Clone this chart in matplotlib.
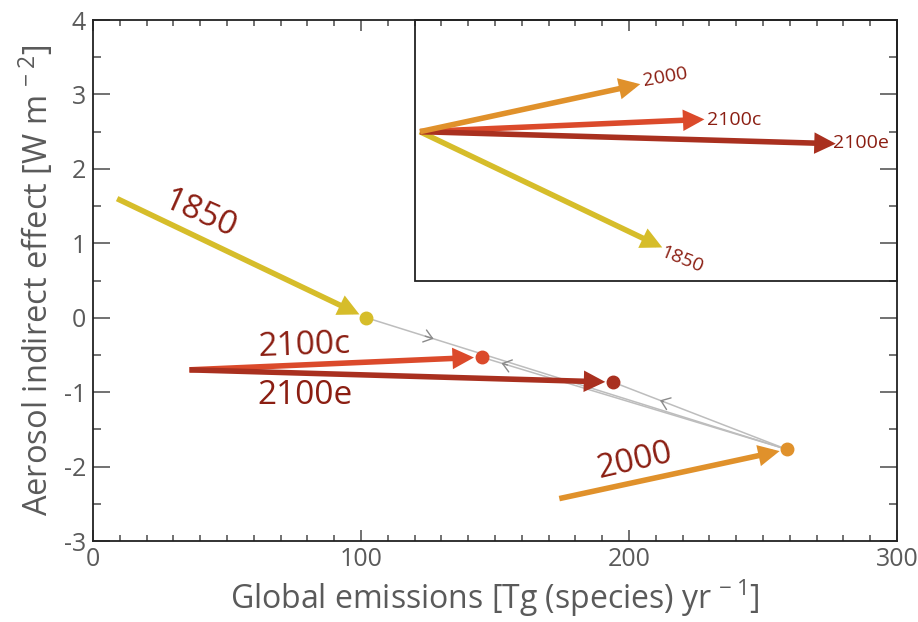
import numpy as np
import matplotlib
matplotlib.use("Agg")
import matplotlib.pyplot as plt
from matplotlib.patches import Rectangle

plt.rcParams['font.family'] = ['Open Sans', 'DejaVu Sans']
plt.rcParams['mathtext.fontset'] = 'custom'
plt.rcParams['mathtext.rm'] = 'Open Sans'
plt.rcParams['mathtext.default'] = 'regular'
plt.rcParams['axes.unicode_minus'] = False

# scenarios: arrow tail and end-point (emissions, forcing)
scenarios = ['1850', '2100c', '2100e', '2000']
start_x = [9, 36, 36, 174]
start_y = [1.60, -0.70, -0.70, -2.43]
end_x = [102, 145, 194, 259]
end_y = [0.0, -0.53, -0.865, -1.77]
colors = ['#d6bd2a', '#db4a2b', '#a9301f', '#e0912b']

# grey trajectory between the end points
path_from = ['1850', '2000', '2000']
path_to = ['2000', '2100c', '2100e']
chevron_at = [0.14, 0.915, 0.71]

# inset: all arrows moved to a common origin
inset_origin = (122, 2.5)
inset_box = (120, 0.5, 300, 4)

label_col = '#8b1e12'
grey = '#5a5a5a'

fig = plt.figure(figsize=(9.18, 6.22), dpi=100)
ax = fig.add_axes([0.1013, 0.1302, 0.8758, 0.8376])

ax.set_xlim(0, 300)
ax.set_ylim(-3, 4)
ax.set_xticks([0, 100, 200, 300])
ax.set_yticks(range(-3, 5))
ax.set_xticks(np.arange(0, 301, 10), minor=True)
ax.set_yticks(np.arange(-3, 4.01, 0.5), minor=True)
ax.tick_params(which='both', direction='in', top=True, right=True,
               colors='#666666', labelcolor=grey, labelsize=18, width=1.3)
ax.tick_params(axis='x', which='major', length=8, pad=4)
ax.tick_params(axis='x', which='minor', length=4)
ax.tick_params(axis='y', which='major', length=12, pad=5)
ax.tick_params(axis='y', which='minor', length=6)
for s in ax.spines.values():
    s.set_color('#222222')
    s.set_linewidth(1.3)

ax.set_xlabel(r'Global emissions [Tg (species) yr$^{\,-1}$]', fontsize=23,
              color=grey, labelpad=4)
ax.set_ylabel(r'Aerosol indirect effect [W m$^{\,-2}$]', fontsize=23.5,
              color=grey, labelpad=6)

pts = {s: (x, y) for s, x, y in zip(scenarios, end_x, end_y)}

# grey connecting lines with small direction chevrons
for a, b, f in zip(path_from, path_to, chevron_at):
    (x0, y0), (x1, y1) = pts[a], pts[b]
    ax.plot([x0, x1], [y0, y1], color='#bdbdbd', lw=1.1, zorder=1)
    px, py = x0 + f * (x1 - x0), y0 + f * (y1 - y0)
    dx, dy = (x1 - x0) * 0.02, (y1 - y0) * 0.02
    ax.annotate('', xy=(px + dx, py + dy), xytext=(px, py),
                arrowprops=dict(arrowstyle='->,head_length=0.6,head_width=0.45',
                                color='#8a8a8a', lw=1.0, mutation_scale=10,
                                shrinkA=0, shrinkB=0), zorder=2)

arrow_style = '-|>,head_length=0.6,head_width=0.3'
arrow_kw = dict(arrowstyle=arrow_style, lw=4, mutation_scale=15,
                shrinkA=0, shrinkB=5.5, joinstyle='miter', capstyle='butt')

for s, x0, y0, x1, y1, c in zip(scenarios, start_x, start_y, end_x, end_y, colors):
    ax.annotate('', xy=(x1, y1), xytext=(x0, y0),
                arrowprops=dict(color=c, **arrow_kw), zorder=3)
    ax.plot(x1, y1, 'o', color=c, markersize=9, zorder=4)

    # same vector drawn from the inset origin
    ox, oy = inset_origin
    ax.annotate('', xy=(ox + x1 - x0, oy + y1 - y0), xytext=(ox, oy),
                arrowprops=dict(color=c, **arrow_kw), zorder=3)

bx0, by0, bx1, by1 = inset_box
ax.add_patch(Rectangle((bx0, by0), bx1 - bx0, by1 - by0, fill=False,
                       edgecolor='#222222', lw=1.3, clip_on=False, zorder=5))

# main labels
ax.text(40, 1.38, '1850', fontsize=24, color=label_col, rotation=-24,
        ha='center', va='center')
ax.text(79, -0.38, '2100c', fontsize=24, color=label_col, rotation=2,
        ha='center', va='center')
ax.text(79, -1.04, '2100e', fontsize=24, color=label_col,
        ha='center', va='center')
ax.text(202, -1.93, '2000', fontsize=24, color=label_col, rotation=13,
        ha='center', va='center')

# inset labels
ax.text(213.4, 3.23, '2000', fontsize=14, color=label_col, rotation=10,
        ha='center', va='center')
ax.text(239.2, 2.66, '2100c', fontsize=14, color=label_col,
        ha='center', va='center')
ax.text(286.6, 2.35, '2100e', fontsize=14, color=label_col,
        ha='center', va='center')
ax.text(219.8, 0.78, '1850', fontsize=14, color=label_col, rotation=-22,
        ha='center', va='center')

fig.savefig('out.png', dpi=100)
